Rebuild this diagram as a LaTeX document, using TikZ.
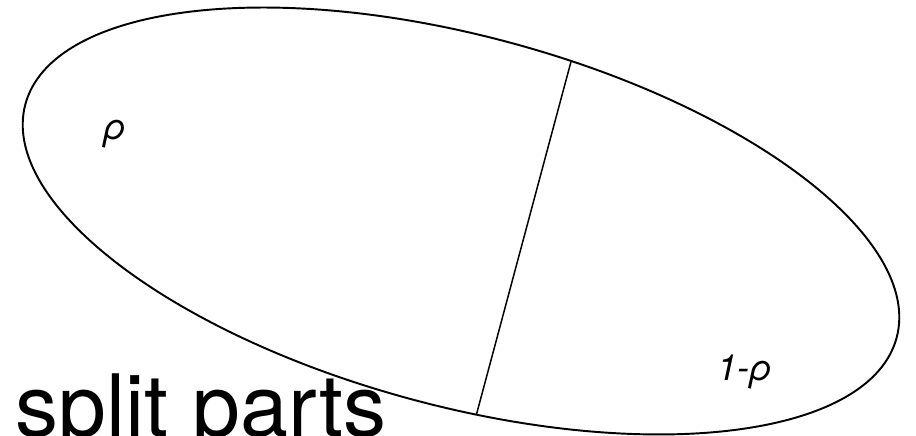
\documentclass[tikz,border=0pt]{standalone}
\usepackage{fontspec}
\setmainfont{TeX Gyre Heros}
\usetikzlibrary{positioning}

\begin{document}
\begin{tikzpicture}[
    outline/.style={draw, line width=1.1pt},
    cut/.style={draw, line width=0.85pt},
    part/.style={inner sep=0pt, anchor=base west, font=\fontsize{20.5}{24}\selectfont\itshape},
    caption/.style={inner sep=0pt, anchor=base west, font=\fontsize{49}{56}\selectfont}
]
    \clip (0,0) rectangle (18.32,8.72);
    \useasboundingbox (0,0) rectangle (18.32,8.72);

    \begin{scope}[shift={(9.22,4.30)}, rotate=-15]
        \draw[outline] (0,0) ellipse [x radius=9.02, y radius=3.7];
        \coordinate (top) at (1.3,3.66);
        \coordinate (bottom) at (1.3,-3.66);
    \end{scope}
    \draw[cut] (top) -- (bottom);

    \node[part] (rho) at (2.06,5.93) {ρ};
    \node[part] (rest) at (14.34,1.10) {1-ρ};
    \node[caption] (title) at (0.30,-0.02) {split parts};

\end{tikzpicture}
\end{document}
